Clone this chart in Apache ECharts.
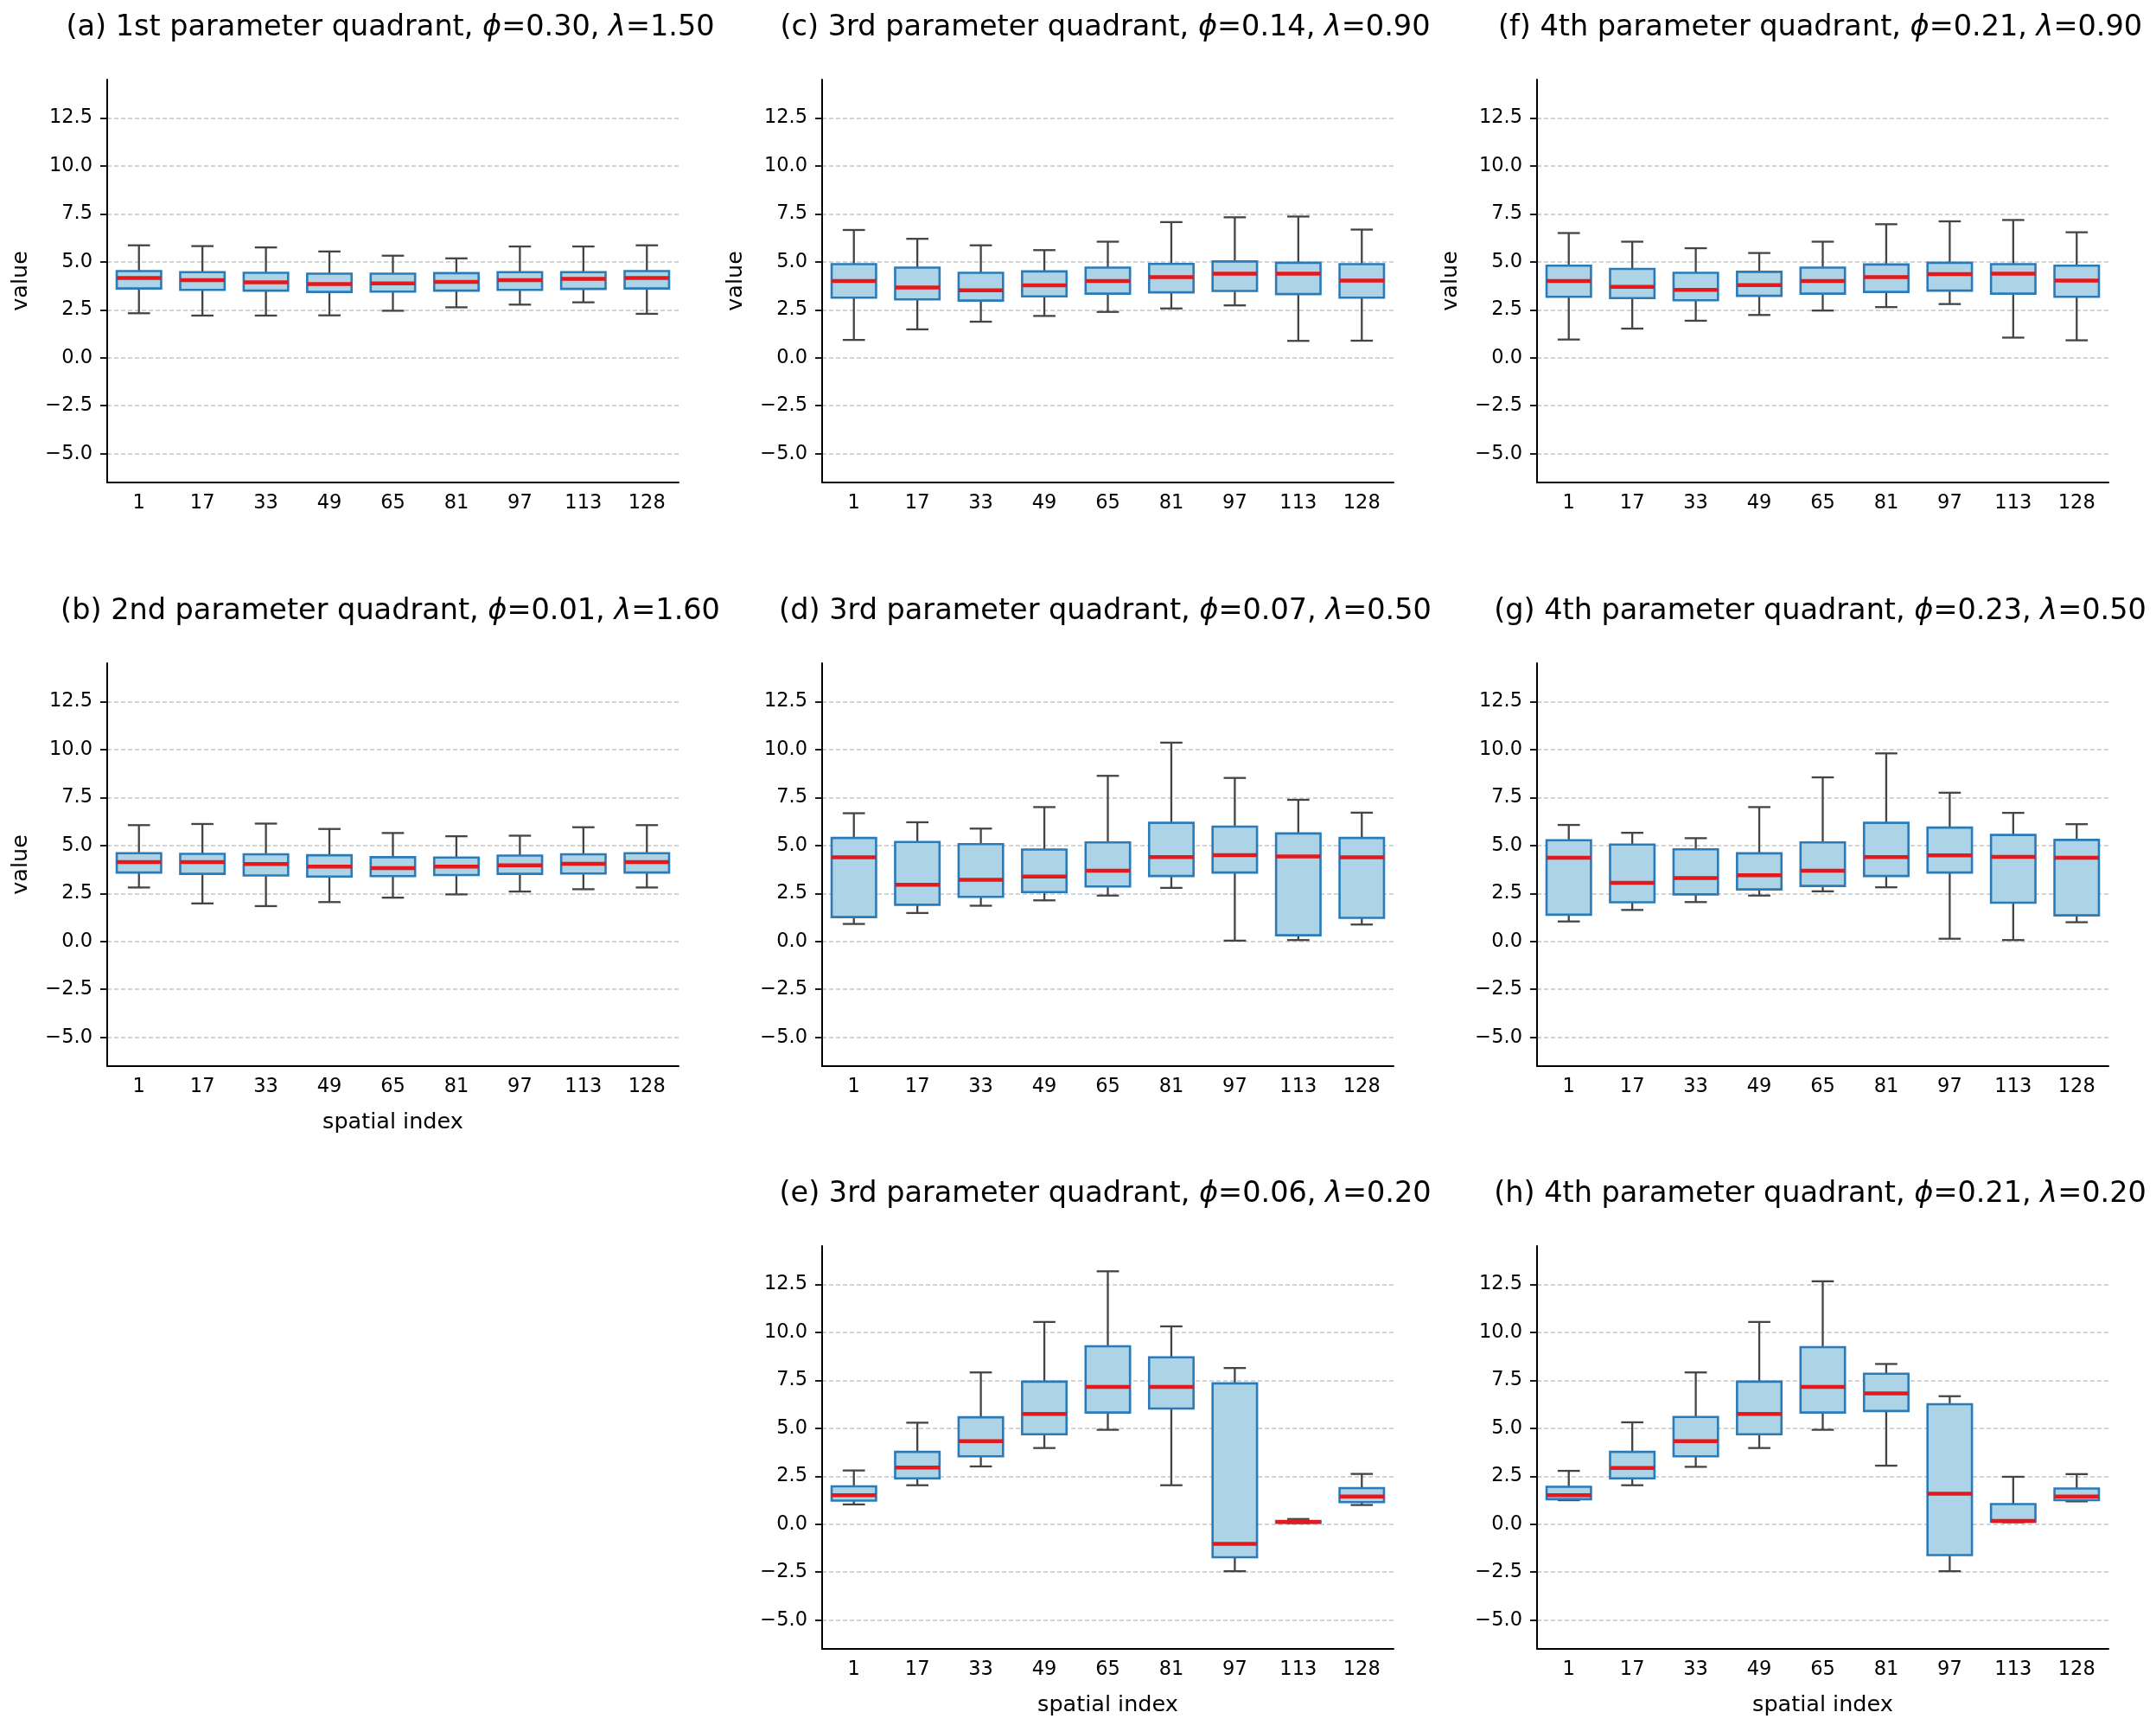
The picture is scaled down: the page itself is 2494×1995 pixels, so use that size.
<!DOCTYPE html>
<html>
<head>
<meta charset="utf-8">
<script src="https://cdn.jsdelivr.net/npm/echarts@6/dist/echarts.min.js"></script>
<style>
html,body{margin:0;padding:0;background:#fff;}
#chart{width:2494px;height:1995px;}
</style>
</head>
<body>
<div id="chart"></div>
<script>
// spatial index categories
var indices = ['1','17','33','49','65','81','97','113','128'];
var yTicks = [-5, -2.5, 0, 2.5, 5, 7.5, 10, 12.5];

// each row: [lower whisker, q1, median, q3, upper whisker]
var boxA = [
  [2.32,3.61,4.16,4.52,5.86],[2.20,3.54,4.05,4.46,5.82],[2.20,3.50,3.93,4.43,5.75],
  [2.21,3.43,3.84,4.38,5.54],[2.45,3.45,3.88,4.38,5.32],[2.63,3.50,3.96,4.41,5.18],
  [2.77,3.54,4.05,4.46,5.80],[2.89,3.59,4.11,4.46,5.80],[2.29,3.61,4.16,4.52,5.86]
];
var boxB = [
  [2.81,3.59,4.13,4.60,6.06],[1.98,3.52,4.13,4.56,6.12],[1.84,3.44,4.03,4.54,6.14],
  [2.05,3.38,3.90,4.49,5.86],[2.28,3.40,3.82,4.39,5.65],[2.45,3.46,3.90,4.37,5.48],
  [2.60,3.52,3.97,4.47,5.51],[2.72,3.54,4.05,4.54,5.95],[2.81,3.59,4.13,4.60,6.06]
];
var boxC = [
  [0.93,3.13,4.00,4.88,6.66],[1.48,3.04,3.66,4.70,6.20],[1.88,2.98,3.52,4.43,5.86],
  [2.18,3.20,3.77,4.50,5.61],[2.39,3.34,4.00,4.70,6.05],[2.57,3.41,4.20,4.89,7.07],
  [2.73,3.48,4.38,5.02,7.32],[0.88,3.32,4.38,4.95,7.36],[0.89,3.13,4.02,4.88,6.68]
];
var boxD = [
  [0.91,1.27,4.38,5.39,6.68],[1.48,1.91,2.95,5.18,6.21],[1.86,2.32,3.21,5.07,5.88],
  [2.14,2.57,3.38,4.79,7.00],[2.39,2.86,3.68,5.16,8.63],[2.79,3.41,4.39,6.18,10.36],
  [0.04,3.59,4.50,5.98,8.52],[0.07,0.32,4.43,5.63,7.38],[0.88,1.23,4.38,5.39,6.71]
];
var boxE = [
  [1.03,1.23,1.51,1.97,2.80],[2.03,2.39,2.95,3.77,5.29],[3.01,3.54,4.33,5.57,7.91],
  [3.97,4.69,5.75,7.43,10.54],[4.92,5.82,7.16,9.27,13.18],[2.03,6.03,7.15,8.70,10.31],
  [-2.45,-1.72,-1.02,7.34,8.14],[0.06,0.08,0.11,0.17,0.27],[1.00,1.15,1.44,1.88,2.62]
];
var boxF = [
  [0.95,3.18,4.00,4.80,6.50],[1.52,3.11,3.70,4.63,6.05],[1.93,3.00,3.54,4.43,5.71],
  [2.23,3.23,3.79,4.48,5.46],[2.46,3.34,4.00,4.70,6.05],[2.64,3.43,4.20,4.86,6.96],
  [2.80,3.50,4.36,4.95,7.11],[1.05,3.34,4.38,4.88,7.18],[0.91,3.18,4.02,4.80,6.54]
];
var boxG = [
  [1.04,1.39,4.36,5.27,6.07],[1.64,2.04,3.05,5.05,5.66],[2.05,2.45,3.30,4.80,5.38],
  [2.39,2.71,3.45,4.59,7.00],[2.61,2.89,3.68,5.16,8.55],[2.82,3.41,4.39,6.18,9.80],
  [0.14,3.59,4.48,5.93,7.75],[0.07,2.02,4.41,5.55,6.70],[1.00,1.36,4.36,5.29,6.11]
];
var boxH = [
  [1.25,1.30,1.51,1.95,2.78],[2.03,2.39,2.93,3.77,5.31],[2.99,3.54,4.33,5.59,7.91],
  [3.97,4.69,5.75,7.43,10.54],[4.92,5.82,7.16,9.23,12.66],[3.05,5.90,6.82,7.84,8.35],
  [-2.45,-1.61,1.59,6.25,6.67],[0.10,0.13,0.17,1.05,2.47],[1.19,1.25,1.44,1.86,2.61]
];

var panels = [
  {tag:'(a) 1st', phi:'0.30', lam:'1.50', data:boxA, row:0, col:0, ylab:true,  xlab:false},
  {tag:'(c) 3rd', phi:'0.14', lam:'0.90', data:boxC, row:0, col:1, ylab:true,  xlab:false},
  {tag:'(f) 4th', phi:'0.21', lam:'0.90', data:boxF, row:0, col:2, ylab:true,  xlab:false},
  {tag:'(b) 2nd', phi:'0.01', lam:'1.60', data:boxB, row:1, col:0, ylab:true,  xlab:true},
  {tag:'(d) 3rd', phi:'0.07', lam:'0.50', data:boxD, row:1, col:1, ylab:false, xlab:false},
  {tag:'(g) 4th', phi:'0.23', lam:'0.50', data:boxG, row:1, col:2, ylab:false, xlab:false},
  {tag:'(e) 3rd', phi:'0.06', lam:'0.20', data:boxE, row:2, col:1, ylab:false, xlab:true},
  {tag:'(h) 4th', phi:'0.21', lam:'0.20', data:boxH, row:2, col:2, ylab:false, xlab:true}
];

var colLeft = [124, 951, 1778];
var rowTop = [92, 767, 1441];
var gridW = 661, gridH = 466;
var FONT = 'DejaVu Sans';

function renderBox(params, api) {
  var i = api.value(0);
  var lo = api.coord([i, api.value(1)]);
  var q1 = api.coord([i, api.value(2)]);
  var md = api.coord([i, api.value(3)]);
  var q3 = api.coord([i, api.value(4)]);
  var hi = api.coord([i, api.value(5)]);
  var band = api.size([1, 0])[0];
  var hb = band * 0.35, hc = band * 0.175;
  var x = md[0];
  var wStyle = {stroke:'#444444', lineWidth:2.3};
  return {
    type:'group',
    children:[
      {type:'line', shape:{x1:x, y1:q3[1], x2:x, y2:hi[1]}, style:wStyle},
      {type:'line', shape:{x1:x, y1:q1[1], x2:x, y2:lo[1]}, style:wStyle},
      {type:'line', shape:{x1:x-hc, y1:hi[1], x2:x+hc, y2:hi[1]}, style:wStyle},
      {type:'line', shape:{x1:x-hc, y1:lo[1], x2:x+hc, y2:lo[1]}, style:wStyle},
      {type:'rect', shape:{x:x-hb, y:q3[1], width:hb*2, height:q1[1]-q3[1]},
        style:{fill:'#add3e6', stroke:'#2a7bb8', lineWidth:2.6}},
      {type:'line', shape:{x1:x-hb, y1:md[1], x2:x+hb, y2:md[1]},
        style:{stroke:'#e3191c', lineWidth:4.5}}
    ]
  };
}

var option = {
  backgroundColor:'#ffffff',
  animation:false,
  title:[], grid:[], xAxis:[], yAxis:[], series:[]
};

panels.forEach(function(p, k){
  var left = colLeft[p.col], top = rowTop[p.row];
  option.title.push({
    text: p.tag + ' parameter quadrant, {m|\u03d5}=' + p.phi + ', {m|\u03bb}=' + p.lam,
    left: left + gridW / 2 - 3,
    top: top - 77,
    textAlign:'center',
    padding:0,
    textStyle:{
      fontFamily:FONT, fontSize:33.5, fontWeight:'normal', color:'#000',
      rich:{m:{fontFamily:FONT, fontSize:33.5, fontStyle:'italic', color:'#000'}}
    }
  });
  option.grid.push({left:left, top:top, width:gridW, height:gridH});
  option.xAxis.push({
    type:'category', gridIndex:k, data:indices, boundaryGap:true,
    name: p.xlab ? 'spatial index' : '', nameLocation:'middle', nameGap:52,
    nameTextStyle:{fontFamily:FONT, fontSize:25.5, color:'#000', verticalAlign:'top'},
    axisLine:{onZero:false, lineStyle:{color:'#000', width:2}},
    axisTick:{alignWithLabel:true, length:8, lineStyle:{color:'#000', width:1.8}},
    axisLabel:{fontFamily:FONT, fontSize:22.5, color:'#000', margin:13, interval:0},
    splitLine:{show:false}
  });
  option.yAxis.push({
    type:'value', gridIndex:k, min:-6.5, max:14.5,
    name: p.ylab ? 'value' : '', nameLocation:'middle', nameGap:87,
    nameTextStyle:{fontFamily:FONT, fontSize:25.5, color:'#000'},
    axisLine:{show:true, onZero:false, lineStyle:{color:'#000', width:2}},
    axisTick:{show:true, length:8, customValues:yTicks, lineStyle:{color:'#000', width:1.8}},
    axisLabel:{fontFamily:FONT, fontSize:22.5, color:'#000', margin:17, customValues:yTicks,
      formatter:function(v){ return (v < 0 ? '\u2212' : '') + Math.abs(v).toFixed(1); }},
    splitLine:{show:true, lineStyle:{color:'#d3d3d3', width:1.8, type:[5,3]}}
  });
  option.series.push({
    type:'custom', xAxisIndex:k, yAxisIndex:k,
    renderItem:renderBox,
    encode:{x:0, y:[1,2,3,4,5]},
    data:p.data.map(function(b, i){ return [i, b[0], b[1], b[2], b[3], b[4]]; })
  });
});

var myChart = echarts.init(document.getElementById('chart'));
myChart.setOption(option);
</script>
</body>
</html>
